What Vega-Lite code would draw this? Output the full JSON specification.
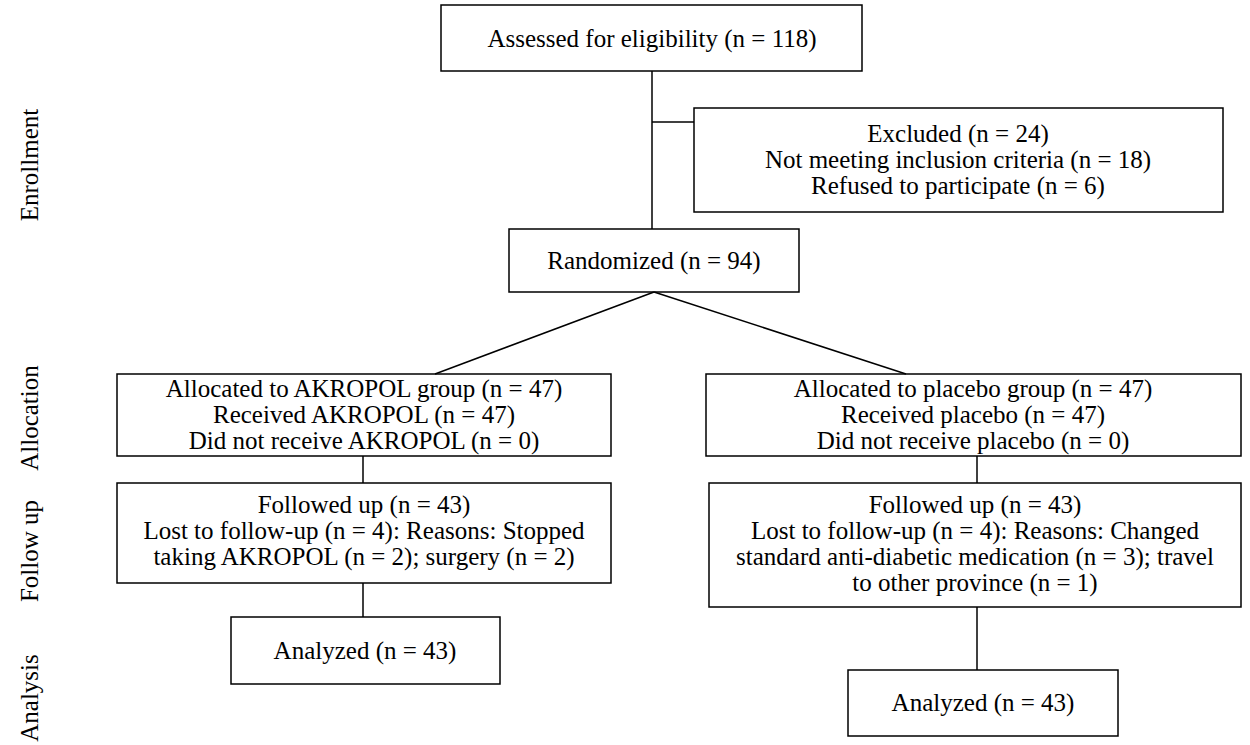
{
  "$schema": "https://vega.github.io/schema/vega-lite/v6.json",
  "width": 1250,
  "height": 745,
  "autosize": "none",
  "padding": 0,
  "background": "white",
  "config": {"view": {"stroke": null}},
  "datasets": {
    "boxes": [
      {"id": "assessed", "x": 441, "x2": 862, "y": 5, "y2": 71},
      {"id": "excluded", "x": 694, "x2": 1223, "y": 108, "y2": 212},
      {"id": "randomized", "x": 509, "x2": 799, "y": 229, "y2": 292},
      {"id": "alloc_akropol", "x": 117, "x2": 611, "y": 374, "y2": 456},
      {"id": "alloc_placebo", "x": 706, "x2": 1241, "y": 374, "y2": 456},
      {"id": "follow_akropol", "x": 117, "x2": 611, "y": 483, "y2": 583},
      {"id": "follow_placebo", "x": 709, "x2": 1241, "y": 483, "y2": 607},
      {"id": "analyzed_akropol", "x": 231, "x2": 500, "y": 617, "y2": 684},
      {"id": "analyzed_placebo", "x": 848, "x2": 1118, "y": 670, "y2": 736}
    ],
    "links": [
      {"x": 652, "x2": 652, "y": 71, "y2": 229},
      {"x": 652, "x2": 694, "y": 122, "y2": 122},
      {"x": 654, "x2": 435, "y": 292, "y2": 374},
      {"x": 654, "x2": 906, "y": 292, "y2": 374},
      {"x": 363, "x2": 363, "y": 456, "y2": 483},
      {"x": 977, "x2": 977, "y": 456, "y2": 483},
      {"x": 363, "x2": 363, "y": 583, "y2": 617},
      {"x": 977, "x2": 977, "y": 607, "y2": 670}
    ],
    "texts": [
      {"x": 652, "y": 39, "label": "Assessed for eligibility (n = 118)"},
      {"x": 958, "y": 134, "label": "Excluded (n = 24)"},
      {"x": 958, "y": 160, "label": "Not meeting inclusion criteria (n = 18)"},
      {"x": 958, "y": 186, "label": "Refused to participate (n = 6)"},
      {"x": 654, "y": 261, "label": "Randomized (n = 94)"},
      {"x": 364, "y": 389, "label": "Allocated to AKROPOL group (n = 47)"},
      {"x": 364, "y": 415, "label": "Received AKROPOL (n = 47)"},
      {"x": 364, "y": 441, "label": "Did not receive AKROPOL (n = 0)"},
      {"x": 973, "y": 389, "label": "Allocated to placebo group (n = 47)"},
      {"x": 973, "y": 415, "label": "Received placebo (n = 47)"},
      {"x": 973, "y": 441, "label": "Did not receive placebo (n = 0)"},
      {"x": 364, "y": 505, "label": "Followed up (n = 43)"},
      {"x": 364, "y": 531, "label": "Lost to follow-up (n = 4): Reasons: Stopped"},
      {"x": 364, "y": 557, "label": "taking AKROPOL (n = 2); surgery (n = 2)"},
      {"x": 975, "y": 505, "label": "Followed up (n = 43)"},
      {"x": 975, "y": 531, "label": "Lost to follow-up (n = 4): Reasons: Changed"},
      {"x": 975, "y": 557, "label": "standard anti-diabetic medication (n = 3); travel"},
      {"x": 975, "y": 583, "label": "to other province (n = 1)"},
      {"x": 365, "y": 651, "label": "Analyzed (n = 43)"},
      {"x": 983, "y": 703, "label": "Analyzed (n = 43)"}
    ],
    "stages": [
      {"x": 30, "y": 165, "label": "Enrollment"},
      {"x": 30, "y": 418, "label": "Allocation"},
      {"x": 30, "y": 551, "label": "Follow up"},
      {"x": 30, "y": 698, "label": "Analysis"}
    ]
  },
  "layer": [
    {
      "data": {"name": "boxes"},
      "mark": {"type": "rect", "fill": "white", "stroke": "black", "strokeWidth": 1.5},
      "encoding": {
        "x": {"field": "x", "type": "quantitative", "scale": {"domain": [0, 1250], "nice": false, "zero": false}, "axis": null},
        "x2": {"field": "x2"},
        "y": {"field": "y", "type": "quantitative", "scale": {"domain": [0, 745], "nice": false, "zero": false, "reverse": true}, "axis": null},
        "y2": {"field": "y2"}
      }
    },
    {
      "data": {"name": "links"},
      "mark": {"type": "rule", "stroke": "black", "strokeWidth": 1.5},
      "encoding": {
        "x": {"field": "x", "type": "quantitative"},
        "x2": {"field": "x2"},
        "y": {"field": "y", "type": "quantitative"},
        "y2": {"field": "y2"}
      }
    },
    {
      "data": {"name": "texts"},
      "mark": {"type": "text", "font": "Liberation Serif", "fontSize": 25, "align": "center", "baseline": "middle", "color": "black"},
      "encoding": {
        "x": {"field": "x", "type": "quantitative"},
        "y": {"field": "y", "type": "quantitative"},
        "text": {"field": "label"}
      }
    },
    {
      "data": {"name": "stages"},
      "mark": {"type": "text", "font": "Liberation Serif", "fontSize": 25, "align": "center", "baseline": "middle", "angle": 270, "color": "black"},
      "encoding": {
        "x": {"field": "x", "type": "quantitative"},
        "y": {"field": "y", "type": "quantitative"},
        "text": {"field": "label"}
      }
    }
  ]
}
